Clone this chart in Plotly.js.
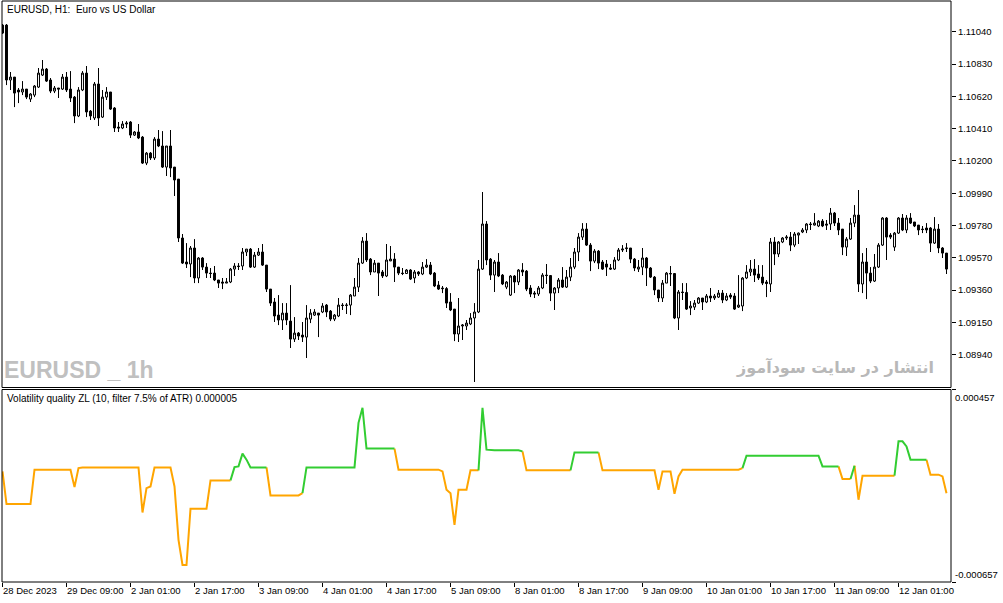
<!DOCTYPE html>
<html><head><meta charset="utf-8">
<script src="https://cdn.plot.ly/plotly-3.0.1.min.js"></script>
<style>html,body{margin:0;padding:0;background:#fff;overflow:hidden}#chart{width:1003px;height:603px;}</style>
</head><body><div id="chart"></div>
<script>
// ---- data (EURUSD H1, bar 0 = 28 Dec 2023 17:00) ----
const openP = [
1.11083,1.11083,1.10726,1.10745,1.10661,1.10648,1.10667,1.10602,1.10628,1.10680,
1.10758,1.10797,1.10726,1.10654,1.10674,1.10667,1.10745,1.10667,1.10615,1.10492,
1.10661,1.10771,1.10524,1.10479,1.10700,1.10485,1.10615,1.10648,1.10544,1.10420,
1.10414,1.10440,1.10453,1.10368,1.10388,1.10355,1.10186,1.10251,1.10219,1.10342,
1.10297,1.10160,1.10297,1.10160,1.10082,1.09699,1.09543,1.09530,1.09634,1.09439,
1.09569,1.09510,1.09471,1.09471,1.09426,1.09413,1.09406,1.09413,1.09497,1.09517,
1.09517,1.09608,1.09627,1.09510,1.09588,1.09608,1.09523,1.09367,1.09283,1.09198,
1.09166,1.09211,1.09159,1.09042,1.09081,1.09068,1.09055,1.09172,1.09198,1.09211,
1.09218,1.09263,1.09224,1.09172,1.09192,1.09263,1.09260,1.09263,1.09322,1.09380,
1.09536,1.09679,1.09562,1.09478,1.09536,1.09478,1.09452,1.09550,1.09562,1.09510,
1.09471,1.09468,1.09491,1.09439,1.09478,1.09465,1.09510,1.09523,1.09471,1.09393,
1.09374,1.09370,1.09283,1.09237,1.09075,1.09127,1.09127,1.09140,1.09179,1.09218,
1.09497,1.09790,1.09562,1.09458,1.09543,1.09458,1.09380,1.09328,1.09452,1.09413,
1.09491,1.09484,1.09374,1.09341,1.09335,1.09374,1.09458,1.09455,1.09341,1.09374,
1.09426,1.09380,1.09445,1.09510,1.09608,1.09705,1.09757,1.09653,1.09549,1.09614,
1.09543,1.09530,1.09504,1.09497,1.09556,1.09621,1.09630,1.09634,1.09562,1.09497,
1.09510,1.09569,1.09504,1.09445,1.09361,1.09309,1.09406,1.09465,1.09468,1.09179,
1.09348,1.09345,1.09244,1.09250,1.09276,1.09309,1.09283,1.09322,1.09309,1.09315,
1.09341,1.09296,1.09328,1.09322,1.09250,1.09257,1.09439,1.09478,1.09497,1.09465,
1.09445,1.09413,1.09400,1.09673,1.09595,1.09673,1.09699,1.09705,1.09653,1.09718,
1.09738,1.09751,1.09790,1.09783,1.09777,1.09809,1.09790,1.09790,1.09861,1.09796,
1.09757,1.09640,1.09692,1.09796,1.09848,1.09400,1.09543,1.09471,1.09419,1.09510,
1.09653,1.09829,1.09718,1.09640,1.09731,1.09829,1.09751,1.09829,1.09803,1.09783,
1.09757,1.09764,1.09764,1.09666,1.09757,1.09634,1.09601];
const highP = [
1.11090,1.11090,1.10778,1.10745,1.10674,1.10719,1.10667,1.10641,1.10693,1.10804,
1.10856,1.10804,1.10739,1.10687,1.10674,1.10765,1.10778,1.10784,1.10622,1.10680,
1.10784,1.10817,1.10531,1.10713,1.10804,1.10661,1.10680,1.10648,1.10550,1.10453,
1.10459,1.10459,1.10459,1.10394,1.10440,1.10362,1.10258,1.10258,1.10355,1.10401,
1.10394,1.10297,1.10401,1.10160,1.10082,1.09725,1.09666,1.09647,1.09692,1.09575,
1.09575,1.09536,1.09504,1.09517,1.09426,1.09439,1.09439,1.09504,1.09536,1.09536,
1.09634,1.09627,1.09634,1.09608,1.09634,1.09660,1.09523,1.09367,1.09309,1.09328,
1.09276,1.09276,1.09393,1.09185,1.09088,1.09153,1.09263,1.09237,1.09237,1.09211,
1.09276,1.09270,1.09231,1.09205,1.09309,1.09276,1.09276,1.09335,1.09439,1.09569,
1.09705,1.09731,1.09569,1.09556,1.09536,1.09491,1.09660,1.09647,1.09601,1.09510,
1.09504,1.09497,1.09497,1.09491,1.09484,1.09543,1.09562,1.09543,1.09478,1.09419,
1.09387,1.09380,1.09341,1.09237,1.09309,1.09140,1.09166,1.09211,1.09276,1.09556,
1.09998,1.09809,1.09569,1.09556,1.09601,1.09465,1.09419,1.09458,1.09458,1.09497,
1.09536,1.09491,1.09393,1.09354,1.09387,1.09471,1.09530,1.09458,1.09380,1.09439,
1.09510,1.09491,1.09569,1.09634,1.09731,1.09796,1.09796,1.09666,1.09627,1.09621,
1.09556,1.09556,1.09530,1.09575,1.09634,1.09653,1.09666,1.09634,1.09569,1.09556,
1.09634,1.09575,1.09510,1.09452,1.09361,1.09426,1.09478,1.09517,1.09471,1.09361,
1.09406,1.09406,1.09289,1.09296,1.09315,1.09309,1.09335,1.09374,1.09335,1.09361,
1.09361,1.09341,1.09341,1.09341,1.09458,1.09445,1.09523,1.09556,1.09562,1.09523,
1.09523,1.09426,1.09699,1.09705,1.09679,1.09705,1.09718,1.09738,1.09738,1.09735,
1.09764,1.09796,1.09803,1.09861,1.09816,1.09822,1.09816,1.09894,1.09868,1.09829,
1.09757,1.09705,1.09829,1.09913,1.10011,1.09601,1.09634,1.09510,1.09595,1.09666,
1.09835,1.09835,1.09731,1.09738,1.09835,1.09855,1.09848,1.09861,1.09803,1.09783,
1.09777,1.09796,1.09770,1.09835,1.09790,1.09640,1.09601];
const lowP = [
1.11025,1.10693,1.10661,1.10550,1.10576,1.10628,1.10602,1.10583,1.10615,1.10674,
1.10752,1.10713,1.10641,1.10641,1.10609,1.10661,1.10648,1.10583,1.10446,1.10485,
1.10654,1.10485,1.10466,1.10466,1.10427,1.10479,1.10596,1.10531,1.10388,1.10388,
1.10407,1.10414,1.10349,1.10362,1.10342,1.10180,1.10173,1.10206,1.10206,1.10290,
1.10154,1.10102,1.10095,1.09972,1.09673,1.09530,1.09504,1.09445,1.09406,1.09406,
1.09491,1.09439,1.09439,1.09419,1.09374,1.09367,1.09406,1.09406,1.09452,1.09491,
1.09491,1.09582,1.09504,1.09504,1.09582,1.09517,1.09348,1.09257,1.09153,1.09133,
1.09101,1.09133,1.08984,1.09023,1.09036,1.09023,1.08919,1.09146,1.09192,1.09055,
1.09211,1.09185,1.09159,1.09159,1.09185,1.09231,1.09205,1.09198,1.09322,1.09348,
1.09530,1.09543,1.09458,1.09478,1.09322,1.09439,1.09445,1.09549,1.09413,1.09458,
1.09458,1.09465,1.09426,1.09406,1.09452,1.09458,1.09504,1.09458,1.09380,1.09361,
1.09341,1.09244,1.09224,1.09029,1.09023,1.09036,1.09101,1.09133,1.08763,1.09211,
1.09491,1.09523,1.09426,1.09348,1.09445,1.09393,1.09367,1.09322,1.09341,1.09393,
1.09452,1.09354,1.09315,1.09309,1.09322,1.09367,1.09400,1.09289,1.09231,1.09341,
1.09374,1.09374,1.09419,1.09497,1.09549,1.09686,1.09647,1.09484,1.09536,1.09497,
1.09491,1.09452,1.09491,1.09491,1.09549,1.09608,1.09608,1.09536,1.09484,1.09478,
1.09458,1.09387,1.09439,1.09328,1.09283,1.09283,1.09406,1.09387,1.09172,1.09101,
1.09296,1.09231,1.09198,1.09231,1.09270,1.09231,1.09276,1.09283,1.09296,1.09309,
1.09276,1.09289,1.09302,1.09231,1.09244,1.09224,1.09432,1.09452,1.09413,1.09426,
1.09393,1.09315,1.09348,1.09523,1.09575,1.09666,1.09686,1.09614,1.09640,1.09660,
1.09731,1.09731,1.09751,1.09780,1.09770,1.09770,1.09751,1.09751,1.09777,1.09718,
1.09588,1.09582,1.09686,1.09770,1.09348,1.09341,1.09302,1.09406,1.09413,1.09504,
1.09647,1.09556,1.09692,1.09615,1.09725,1.09744,1.09731,1.09790,1.09770,1.09718,
1.09731,1.09731,1.09608,1.09660,1.09601,1.09569,1.09465];
const closeP = [
1.11031,1.10726,1.10745,1.10641,1.10648,1.10667,1.10615,1.10635,1.10687,1.10771,
1.10797,1.10719,1.10654,1.10674,1.10667,1.10745,1.10661,1.10609,1.10492,1.10661,
1.10771,1.10518,1.10492,1.10700,1.10479,1.10615,1.10648,1.10537,1.10414,1.10414,
1.10440,1.10446,1.10368,1.10388,1.10349,1.10186,1.10251,1.10219,1.10342,1.10297,
1.10160,1.10297,1.10154,1.10076,1.09699,1.09536,1.09530,1.09634,1.09439,1.09569,
1.09510,1.09471,1.09468,1.09426,1.09406,1.09406,1.09413,1.09497,1.09517,1.09514,
1.09608,1.09627,1.09510,1.09588,1.09608,1.09523,1.09367,1.09276,1.09192,1.09166,
1.09211,1.09166,1.09042,1.09081,1.09062,1.09055,1.09179,1.09211,1.09218,1.09198,
1.09257,1.09218,1.09172,1.09198,1.09263,1.09260,1.09263,1.09328,1.09380,1.09536,
1.09679,1.09556,1.09478,1.09536,1.09471,1.09452,1.09556,1.09562,1.09510,1.09471,
1.09468,1.09491,1.09432,1.09478,1.09465,1.09510,1.09523,1.09465,1.09387,1.09367,
1.09370,1.09276,1.09231,1.09075,1.09127,1.09133,1.09146,1.09179,1.09218,1.09497,
1.09790,1.09556,1.09458,1.09543,1.09452,1.09400,1.09413,1.09452,1.09413,1.09491,
1.09478,1.09367,1.09335,1.09335,1.09374,1.09458,1.09455,1.09341,1.09374,1.09426,
1.09380,1.09445,1.09510,1.09608,1.09705,1.09757,1.09653,1.09549,1.09614,1.09536,
1.09497,1.09510,1.09497,1.09556,1.09621,1.09627,1.09634,1.09562,1.09504,1.09510,
1.09569,1.09504,1.09445,1.09361,1.09309,1.09406,1.09471,1.09468,1.09179,1.09348,
1.09345,1.09237,1.09257,1.09276,1.09309,1.09283,1.09322,1.09309,1.09322,1.09341,
1.09296,1.09322,1.09315,1.09237,1.09263,1.09439,1.09478,1.09497,1.09458,1.09439,
1.09406,1.09403,1.09673,1.09595,1.09673,1.09699,1.09705,1.09653,1.09725,1.09731,
1.09751,1.09790,1.09787,1.09796,1.09809,1.09777,1.09783,1.09861,1.09796,1.09751,
1.09640,1.09692,1.09796,1.09848,1.09400,1.09543,1.09471,1.09419,1.09510,1.09653,
1.09829,1.09705,1.09705,1.09731,1.09829,1.09751,1.09829,1.09796,1.09777,1.09751,
1.09754,1.09751,1.09666,1.09757,1.09634,1.09601,1.09497];

// Volatility quality ZL values per bar
const vq = [
-17e-6,
-206e-6,-206e-6,-206e-6,-206e-6,-206e-6,-206e-6,-206e-6,
-7e-6,-7e-6,-7e-6,-7e-6,-7e-6,-7e-6,-7e-6,-7e-6,-7e-6,-7e-6,
-108e-6,2e-6,
6e-6,6e-6,6e-6,6e-6,6e-6,6e-6,6e-6,6e-6,6e-6,6e-6,6e-6,6e-6,6e-6,6e-6,6e-6,
-255e-6,-114e-6,-104e-6,
6e-6,6e-6,6e-6,6e-6,6e-6,
-104e-6,-413e-6,-558e-6,-558e-6,
-233e-6,-233e-6,-233e-6,-233e-6,-233e-6,
-69e-6,-69e-6,-69e-6,-69e-6,-69e-6,-69e-6,
8e-6,12e-6,86e-6,51e-6,
6e-6,6e-6,6e-6,6e-6,6e-6,
-156e-6,-156e-6,-156e-6,-156e-6,-156e-6,-156e-6,-156e-6,-156e-6,
-143e-6,
6e-6,6e-6,6e-6,6e-6,6e-6,6e-6,6e-6,6e-6,6e-6,6e-6,6e-6,6e-6,6e-6,
264e-6,351e-6,
115e-6,115e-6,115e-6,115e-6,115e-6,115e-6,115e-6,115e-6,
-7e-6,-7e-6,-7e-6,-7e-6,-7e-6,-7e-6,-7e-6,-7e-6,-7e-6,-7e-6,-7e-6,
-17e-6,-123e-6,-143e-6,-326e-6,
-123e-6,-123e-6,-123e-6,
-11e-6,-11e-6,-11e-6,
351e-6,109e-6,
105e-6,105e-6,105e-6,105e-6,105e-6,105e-6,105e-6,105e-6,
99e-6,
-11e-6,-11e-6,-11e-6,-11e-6,-11e-6,-11e-6,-11e-6,-11e-6,-11e-6,-11e-6,-11e-6,-11e-6,
93e-6,93e-6,93e-6,93e-6,93e-6,93e-6,93e-6,
-11e-6,-11e-6,-11e-6,-11e-6,-11e-6,-11e-6,-11e-6,-11e-6,-11e-6,-11e-6,-11e-6,-11e-6,-11e-6,-11e-6,
-123e-6,
-17e-6,-17e-6,-17e-6,
-146e-6,-46e-6,
-7e-6,-7e-6,-7e-6,-7e-6,-7e-6,-7e-6,-7e-6,-7e-6,-7e-6,-7e-6,-7e-6,-7e-6,-7e-6,-7e-6,-7e-6,
2e-6,
74e-6,74e-6,74e-6,74e-6,74e-6,74e-6,74e-6,74e-6,74e-6,74e-6,74e-6,74e-6,74e-6,74e-6,74e-6,74e-6,74e-6,74e-6,74e-6,
12e-6,12e-6,12e-6,12e-6,12e-6,
-61e-6,-61e-6,-61e-6,
16e-6,-181e-6,
-42e-6,-42e-6,-42e-6,-42e-6,-42e-6,-42e-6,-42e-6,-42e-6,-42e-6,
157e-6,157e-6,
128e-6,
51e-6,51e-6,51e-6,51e-6,51e-6,
-36e-6,-36e-6,-36e-6,
-46e-6,-143e-6];
// bar ranges where the indicator is drawn green (rest orange)
const greenRuns = [[58,66],[76,98],[120,130],[143,149],[186,209],[213,213],[224,231]];

const xTickBars = [0,16,32,48,64,80,96,112,128,144,160,176,192,208,224];
const xTickLabels = ['28 Dec 2023','29 Dec 09:00','2 Jan 01:00','2 Jan 17:00','3 Jan 09:00',
  '4 Jan 01:00','4 Jan 17:00','5 Jan 09:00','8 Jan 01:00','8 Jan 17:00','9 Jan 09:00',
  '10 Jan 01:00','10 Jan 17:00','11 Jan 09:00','12 Jan 01:00'];
const priceTicks = [1.11040,1.10830,1.10620,1.10410,1.10200,1.09990,1.09780,1.09570,1.09360,1.09150,1.08940];
const vqTicks = [0.000457,-0.000657];
const chartTitle = 'EURUSD, H1:  Euro vs US Dollar';
const indTitle = 'Volatility quality ZL (10, filter 7.5% of ATR) 0.000005';
const wmLeft = 'EURUSD _ 1h';
const wmRight = 'انتشار در سایت سودآموز';

// ---- build ----
const bars = closeP.map((_, i) => i);
const isGreen = vq.map((_, i) => greenRuns.some(r => i >= r[0] && i <= r[1]));
function segs(want) {
  const xs = [], ys = [];
  for (let i = 1; i < vq.length; i++) {
    if (isGreen[i] === want) {
      if (i === 1 || isGreen[i-1] !== want || xs.length === 0 || xs[xs.length-1] === null) { xs.push(i-1); ys.push(vq[i-1]); }
      xs.push(i); ys.push(vq[i]);
      if (i + 1 >= vq.length || isGreen[i+1] !== want) { xs.push(null); ys.push(null); }
    }
  }
  return {xs, ys};
}
const gS = segs(true), oS = segs(false);

const W = 1003, H = 603, ML = 2, MR = 52, MT = 1, MB = 21;
const PW = W - ML - MR, PH = H - MT - MB;
const px = x => (x - ML) / PW;
const py = y => (H - MB - y) / PH;
const mainDom = [py(387.5), 1];
const indDom = [0, py(389.5)];
const font = 'Liberation Sans, Arial, sans-serif';

const traces = [
  {type:'candlestick', x:bars, open:openP, high:highP, low:lowP, close:closeP,
   xaxis:'x', yaxis:'y', hoverinfo:'skip', showlegend:false, whiskerwidth:0,
   increasing:{line:{color:'#000', width:1}, fillcolor:'#ffffff'},
   decreasing:{line:{color:'#000', width:1}, fillcolor:'#000000'}},
  {type:'scatter', mode:'lines', x:oS.xs, y:oS.ys, xaxis:'x', yaxis:'y2',
   line:{color:'#FFA500', width:2}, connectgaps:false, hoverinfo:'skip', showlegend:false},
  {type:'scatter', mode:'lines', x:gS.xs, y:gS.ys, xaxis:'x', yaxis:'y2',
   line:{color:'#32CD32', width:2}, connectgaps:false, hoverinfo:'skip', showlegend:false}
];

const layout = {
  width:W, height:H, margin:{l:ML, r:MR, t:MT, b:MB, pad:0},
  paper_bgcolor:'#ffffff', plot_bgcolor:'#ffffff', showlegend:false,
  font:{family:font, size:10, color:'#000'},
  xaxis:{anchor:'y2', range:[-0.125, 237.125], showgrid:false, zeroline:false, showline:false,
    tickmode:'array', tickvals:xTickBars, ticktext:xTickLabels, ticks:'outside', ticklen:4,
    tickcolor:'#000', tickwidth:1, ticklabelposition:'outside right', tickangle:0, automargin:false,
    tickfont:{family:font, size:9.5, color:'#000'}, rangeslider:{visible:false}, fixedrange:true},
  yaxis:{domain:mainDom, side:'right', anchor:'x', range:[1.087273, 1.112395],
    showgrid:false, zeroline:false, showline:false, tickmode:'array', tickvals:priceTicks,
    ticktext:priceTicks.map(v => v.toFixed(5)), ticks:'outside', ticklen:4, tickcolor:'#000',
    tickfont:{family:font, size:9.5, color:'#000'}, fixedrange:true, automargin:false},
  yaxis2:{domain:indDom, side:'right', anchor:'x', range:[-0.000657, 0.000457],
    showgrid:false, zeroline:false, showline:false, tickmode:'array', tickvals:vqTicks,
    showticklabels:false, ticks:'outside', ticklen:4, tickcolor:'#000', fixedrange:true, automargin:false},
  shapes:[
    {type:'rect', xref:'paper', yref:'paper', x0:0, x1:1, y0:mainDom[0], y1:mainDom[1], line:{color:'#000', width:1}},
    {type:'rect', xref:'paper', yref:'paper', x0:0, x1:1, y0:indDom[0], y1:indDom[1], line:{color:'#000', width:1}}
  ],
  annotations:[
    {xref:'paper', yref:'paper', x:px(5), y:py(10), xanchor:'left', yanchor:'middle', showarrow:false,
     text:chartTitle, font:{family:font, size:10, color:'#000'}},
    {xref:'paper', yref:'paper', x:px(5), y:py(398.5), xanchor:'left', yanchor:'middle', showarrow:false,
     text:indTitle, font:{family:font, size:10, color:'#000'}},
    {xref:'paper', yref:'paper', x:px(2), y:py(370), xanchor:'left', yanchor:'middle', showarrow:false,
     text:'<b>'+wmLeft+'</b>', font:{family:'Liberation Sans, Arial, sans-serif', size:23, color:'#c0c0c0'}},
    {xref:'paper', yref:'paper', x:px(936), y:py(367), xanchor:'right', yanchor:'middle', showarrow:false,
     text:'<b>'+wmRight+'</b>', font:{family:'DejaVu Sans, sans-serif', size:16, color:'#b8b8b8'}},
    {xref:'paper', yref:'y2', x:px(953), y:vqTicks[0], xanchor:'left', yanchor:'top', showarrow:false,
     text:vqTicks[0].toFixed(6), font:{family:font, size:9.5, color:'#000'}},
    {xref:'paper', yref:'y2', x:px(953), y:vqTicks[1], xanchor:'left', yanchor:'bottom', showarrow:false,
     text:vqTicks[1].toFixed(6), font:{family:font, size:9.5, color:'#000'}}
  ]
};

Plotly.newPlot('chart', traces, layout, {staticPlot:true, displayModeBar:false, responsive:false});
</script>
</body></html>
